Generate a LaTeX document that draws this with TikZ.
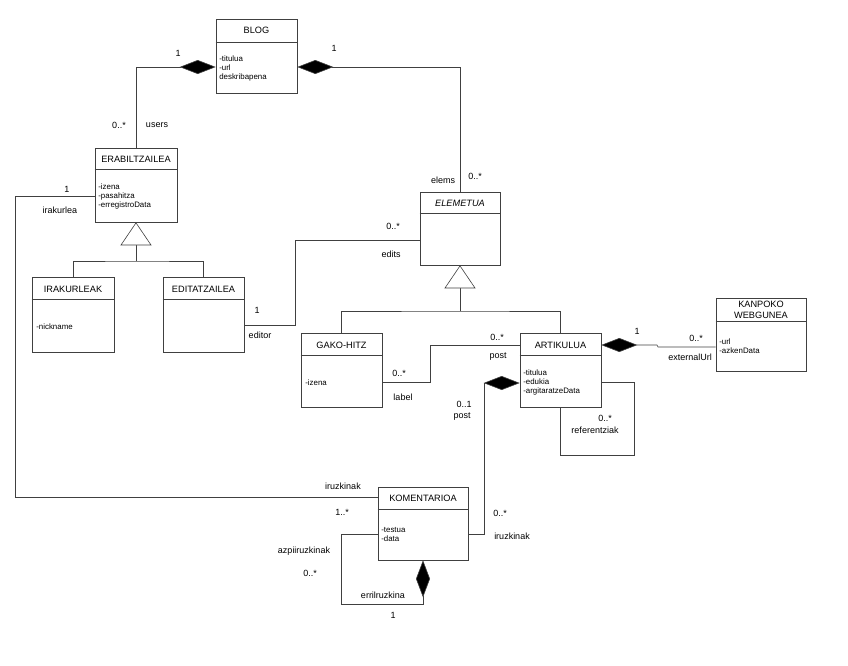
\documentclass[tikz,border=0pt]{standalone}
\usepackage{fontspec}
\setmainfont{Liberation Sans}
\usetikzlibrary{arrows.meta}

\begin{document}
\begin{tikzpicture}[x=1pt, y=-1pt, line width=0.6pt, draw=black!75,
		class_style/.style={rectangle,draw=black!75,fill=white,inner sep=0pt},
		title_style/.style={font=\fontsize{9.2}{10}\selectfont},
		attr_style/.style={anchor=north west,align=left,inner sep=0pt,font=\fontsize{7.9}{9.4}\selectfont},
		label_style/.style={font=\fontsize{9}{10}\selectfont,inner sep=0pt},
		edge_style/.style={draw=black!75},
		comp_style/.style={draw=black!75,{Diamond[length=36pt,width=14pt,fill=black]}-},
		gen_style/.style={draw=black!75,-{Triangle[open,length=23pt,width=31pt,fill=white]}}]

		\useasboundingbox (0,0) rectangle (848,665);

		% klaseak
		\node[class_style,minimum width=81,minimum height=74] (blog) at (256.5,56)  {};
		\node[class_style,minimum width=82,minimum height=74] (erab) at (136,185)  {};
		\node[class_style,minimum width=82,minimum height=75] (irak) at (73,314.5)  {};
		\node[class_style,minimum width=81,minimum height=75] (edit) at (203.5,314.5)  {};
		\node[class_style,minimum width=80,minimum height=73] (elem) at (460,228.5)  {};
		\node[class_style,minimum width=81,minimum height=74] (gako) at (341.5,370)  {};
		\node[class_style,minimum width=81,minimum height=74] (arti) at (560.5,370)  {};
		\node[class_style,minimum width=90,minimum height=73] (kanp) at (761,334.5)  {};
		\node[class_style,minimum width=90,minimum height=73] (kome) at (423,523.5)  {};

		\draw (blog.west |- 0,42) -- (blog.east |- 0,42);
		\draw (erab.west |- 0,169) -- (erab.east |- 0,169);
		\draw (irak.west |- 0,299) -- (irak.east |- 0,299);
		\draw (edit.west |- 0,299) -- (edit.east |- 0,299);
		\draw (elem.west |- 0,213) -- (elem.east |- 0,213);
		\draw (gako.west |- 0,355) -- (gako.east |- 0,355);
		\draw (arti.west |- 0,355) -- (arti.east |- 0,355);
		\draw (kanp.west |- 0,321) -- (kanp.east |- 0,321);
		\draw (kome.west |- 0,509) -- (kome.east |- 0,509);

		\node[title_style] (blogt) at (256.5,30)  {BLOG};
		\node[title_style] (erabt) at (136,159)  {ERABILTZAILEA};
		\node[title_style] (irakt) at (73,289)  {IRAKURLEAK};
		\node[title_style] (editt) at (203.5,289)  {EDITATZAILEA};
		\node[title_style] (elemt) at (460,203)  {\itshape ELEMETUA};
		\node[title_style] (gakot) at (341.5,345)  {GAKO-HITZ};
		\node[title_style] (artit) at (560.5,345)  {ARTIKULUA};
		\node[title_style,align=center,font=\fontsize{9.2}{11}\selectfont] (kanpt) at (761,310)  {KANPOKO\\WEBGUNEA};
		\node[title_style] (komet) at (423,498)  {KOMENTARIOA};

		\node[attr_style] (bloga) at (219,55)  {-titulua\\-url\\deskribapena};
		\node[attr_style] (eraba) at (98,183)  {-izena\\-pasahitza\\-erregistroData};
		\node[attr_style] (iraka) at (36,323)  {-nickname};
		\node[attr_style] (gakoa) at (305,379)  {-izena};
		\node[attr_style] (artia) at (523,369)  {-titulua\\-edukia\\-argitaratzeData};
		\node[attr_style] (kanpa) at (719,338)  {-url\\-azkenData};
		\node[attr_style] (komea) at (381,527)  {-testua\\-data};

		% loturak
		\coordinate (g1) at (136,261);
		\coordinate (g2) at (460,311);
		\draw[edge_style] (irak.north) |- (g1) -| (edit.north);
		\draw[gen_style] (g1) -- (erab.south);
		\draw[edge_style] (gako.north) |- (g2) -| (arti.north);
		\draw[gen_style] (g2) -- (elem.south);

		\draw[comp_style] (blog.west |- 0,67) -| (erab.north);
		\draw[comp_style] (blog.east |- 0,67) -| (elem.north);
		\draw[edge_style] (edit.east |- 0,325) -- (295,325) |- (elem.west |- 0,240);
		\draw[edge_style] (erab.west |- 0,196) -- (15,196) |- (kome.west |- 0,497);
		\draw[edge_style] (gako.east |- 0,382) -- (430,382) |- (arti.west |- 0,345);
		\draw[comp_style] (arti.east |- 0,345) -- (657,345) -- (658,347) -- (kanp.west |- 0,347);
		\draw[edge_style] (arti.east |- 0,382) -| (634,455) -| (arti.south);
		\draw[comp_style] (arti.west |- 0,383) -- (484,383) |- (kome.east |- 0,534);
		\draw[edge_style,-{Diamond[length=37pt,width=14pt,fill=black]}] (kome.west |- 0,534) -| (341,604) -| (kome.south);

		% etiketak
		\node[label_style] (m1) at (178,53)  {1};
		\node[label_style] (m2) at (334,48)  {1};
		\node[label_style] (m3) at (119,125)  {0..*};
		\node[label_style] (r3) at (157,125)  {users};
		\node[label_style] (r4) at (443,180)  {elems};
		\node[label_style] (m4) at (475,176)  {0..*};
		\node[label_style] (m5) at (67,189)  {1};
		\node[label_style] (r5) at (60,210)  {irakurlea};
		\node[label_style] (m6) at (393,226)  {0..*};
		\node[label_style] (r6) at (391,254)  {edits};
		\node[label_style] (m7) at (257,310)  {1};
		\node[label_style] (r7) at (260,335)  {editor};
		\node[label_style] (m8) at (399,373)  {0..*};
		\node[label_style] (r8) at (403,397)  {label};
		\node[label_style] (m9) at (497,337)  {0..*};
		\node[label_style] (r9) at (498,357)  {post};
		\node[label_style] (m10) at (637,331)  {1};
		\node[label_style] (m11) at (696,338)  {0..*};
		\node[label_style] (r11) at (690,357)  {externalUrl};
		\node[label_style] (m12) at (464,404)  {0..1};
		\node[label_style] (r12) at (462,417)  {post};
		\node[label_style] (m13) at (605,418)  {0..*};
		\node[label_style] (r13) at (595,430)  {referentziak};
		\node[label_style] (r14) at (343,486)  {iruzkinak};
		\node[label_style] (m14) at (342,512)  {1..*};
		\node[label_style] (m15) at (500,513)  {0..*};
		\node[label_style] (r15) at (512,536)  {iruzkinak};
		\node[label_style] (r16) at (304,551)  {azpiiruzkinak};
		\node[label_style] (m16) at (310,573)  {0..*};
		\node[label_style] (r17) at (383,595)  {errilruzkina};
		\node[label_style] (m17) at (393,615)  {1};
\end{tikzpicture}
\end{document}
